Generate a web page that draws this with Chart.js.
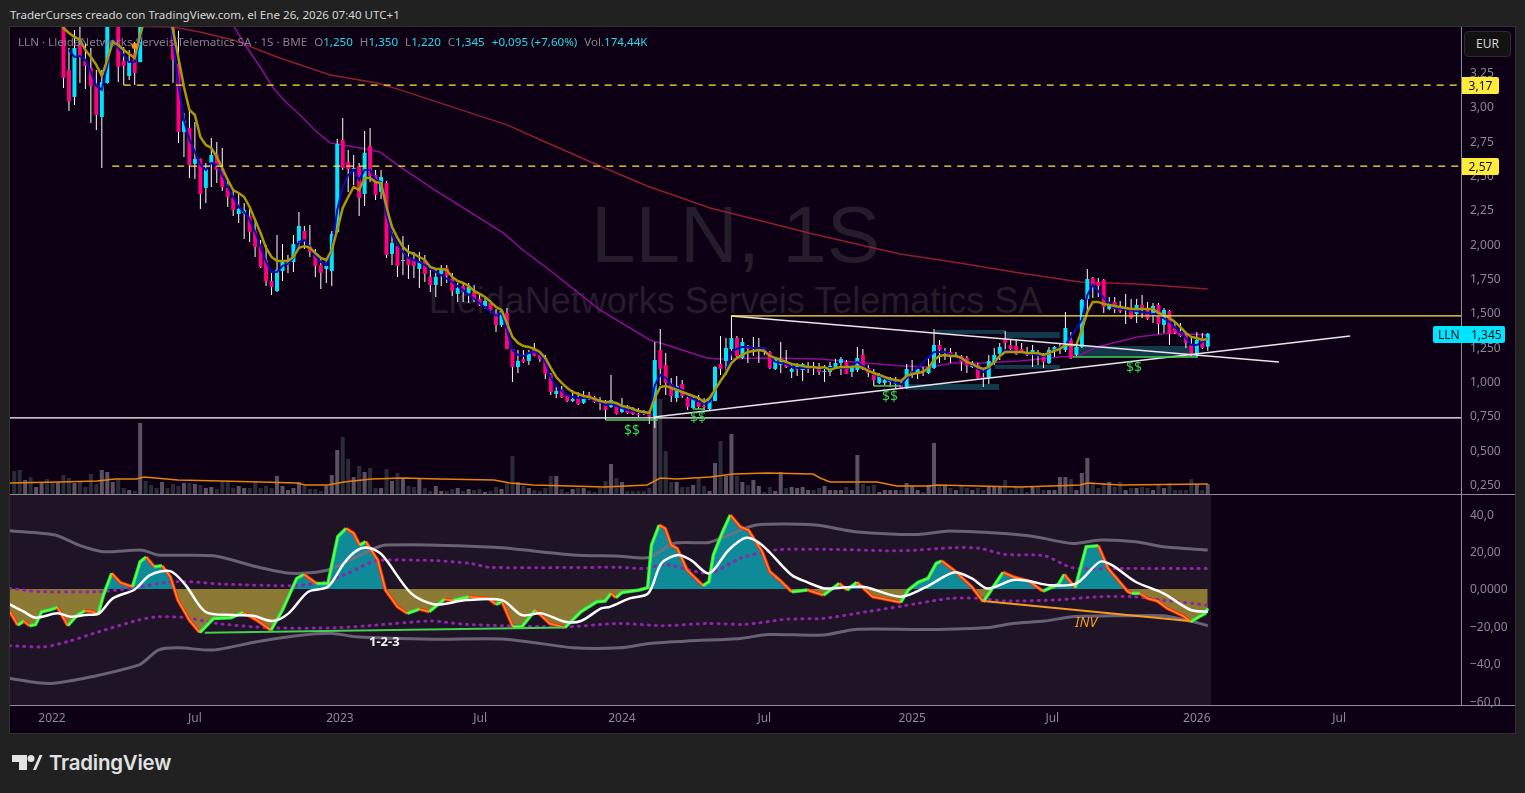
<!DOCTYPE html>
<html>
<head>
<meta charset="utf-8">
<title>LLN 1S</title>
<script src="https://cdn.jsdelivr.net/npm/chart.js@4/dist/chart.umd.min.js"></script>
<style>
  html, body { margin: 0; padding: 0; width: 1525px; height: 793px; overflow: hidden; background: #212121; }
  body { position: relative; font-family: "Noto Sans", sans-serif; }
  .abs { position: absolute; white-space: nowrap; }
  #frame { left: 9px; top: 26px; width: 1505px; height: 706px; background: #0e0014; border: 1px solid #313033; }
  #oscBg { left: 10px; top: 495px; width: 1201px; height: 210px; background: #1f1426; }
  canvas { position: absolute; }
  #wm1 { left: 0; width: 1471px; top: 185px; text-align: center; font: 80px "Liberation Sans", sans-serif; color: #251c2c; line-height: 100px; }
  #wm2 { left: 0; width: 1471px; top: 280px; text-align: center; font: 36px "Liberation Sans", sans-serif; color: #251c2c; line-height: 42px; }
  #hdr { left: 10px; top: 6px; font-size: 11.6px; line-height: 18px; color: #d6d6d6; }
  #legend { left: 18px; top: 33px; font-size: 11.6px; line-height: 18px; color: #84808c; }
  #legend b { font-weight: 400; color: #26d9e8; }
  #legend span { margin-left: 7px; }
  .sep { background: #8f8c9a; }
  .tag { font-size: 12px; line-height: 17px; height: 17px; color: #111; }
  .y { background: #ffeb3b; left: 1462px; width: 37px; text-align: center; border-radius: 0 2px 2px 0; }
  #last { background: #00e5ff; left: 1433px; width: 72px; border-radius: 2px; top: 326px; }
  #last i { font-style: normal; position: absolute; left: 5px; }
  #last u { text-decoration: none; position: absolute; left: 38px; }
  #eur { left: 1464px; top: 31px; width: 45px; height: 24px; line-height: 24px; text-align: center; background: #121212; border: 1px solid #2c2c30; border-radius: 4px; color: #d4d4d4; font-size: 12px; }
  .mark { color: #3bcf4f; font-size: 14px; line-height: 16px; }
  #t123 { left: 369px; top: 632px; color: #f2f2f2; font-size: 13px; font-weight: 700; line-height: 18px; }
  #tinv { left: 1075px; top: 613px; color: #f39c1f; font-size: 14px; font-style: italic; line-height: 18px; }
  #brand { left: 49px; top: 749px; font: 600 20.4px/28px Inter, sans-serif; color: #e2e2e2; letter-spacing: -0.2px; }
</style>
</head>
<body>
<div class="abs" id="frame"></div>
<div class="abs" id="oscBg"></div>
<div class="abs" id="wm1">LLN, 1S</div>
<div class="abs" id="wm2">LleidaNetworks Serveis Telematics SA</div>

<canvas id="priceChart" width="1505" height="467" style="left:10px;top:27px"></canvas>
<canvas id="oscChart" width="1505" height="238" style="left:10px;top:495px"></canvas>

<div class="abs sep" style="left:10px;top:494px;width:1505px;height:1px"></div>
<div class="abs sep" style="left:10px;top:705px;width:1505px;height:1px"></div>
<div class="abs sep" style="left:1461px;top:27px;width:1px;height:678px"></div>

<div class="abs" id="hdr">TraderCurses creado con TradingView.com, el Ene 26, 2026 07:40 UTC+1</div>
<div class="abs" id="legend">LLN · LleidaNetworks Serveis Telematics SA · 1S · BME<span>O<b>1,250</b></span><span>H<b>1,350</b></span><span>L<b>1,220</b></span><span>C<b>1,345</b></span><span><b>+0,095 (+7,60%)</b></span><span>Vol.<b>174,44K</b></span></div>
<div class="abs" id="eur">EUR</div>
<div class="abs tag y" style="top:77px">3,17</div>
<div class="abs tag y" style="top:158px">2,57</div>
<div class="abs tag" id="last"><i>LLN</i><u>1,345</u></div>
<div class="abs mark" style="left:624px;top:422px">$$</div>
<div class="abs mark" style="left:690px;top:409px">$$</div>
<div class="abs mark" style="left:882px;top:388px">$$</div>
<div class="abs mark" style="left:1126px;top:359px">$$</div>
<div class="abs" id="t123">1-2-3</div>
<div class="abs" id="tinv">INV</div>

<svg class="abs" style="left:0;top:750px" width="48" height="26" fill="#e2e2e2">
  <path d="M12 5h15v15h-8v-8h-7z"/><circle cx="31" cy="8.5" r="3.5"/><path d="M33 20l6.500-15h3l-6.500 15z"/>
</svg>
<div class="abs" id="brand">TradingView</div>

<script>
// weekly candles, index 0 = first bar on the left
const opens = [
  4.10,4.00,3.90,4.05,3.92,3.98,4.20,4.00,3.85,3.90,
  3.265,3.069,3.447,3.331,3.280,3.156,2.923,3.170,3.65,3.85,
  3.331,3.221,3.389,3.323,3.85,3.70,3.80,3.70,3.85,3.70,
  3.309,2.814,2.843,2.581,2.617,2.406,2.588,2.653,2.544,2.406,
  2.333,2.216,2.224,2.202,2.093,1.983,1.881,1.728,1.656,1.801,
  1.852,1.867,2.005,2.093,1.983,1.918,1.845,1.816,1.801,2.085,
  2.755,2.595,2.544,2.566,2.362,2.712,2.500,2.377,2.442,1.925,
  1.983,1.874,1.896,1.881,1.816,1.874,1.758,1.699,1.779,1.823,
  1.743,1.634,1.692,1.641,1.648,1.597,1.546,1.568,1.495,1.408,
  1.495,1.233,1.102,1.160,1.146,1.226,1.190,1.168,1.044,0.905,
  0.935,0.898,0.854,0.884,0.840,0.898,0.884,0.847,0.840,0.811,
  0.840,0.774,0.803,0.789,0.760,0.767,0.767,0.738,1.226,1.117,
  0.978,0.876,0.978,0.876,0.803,0.847,0.818,0.796,0.854,1.124,
  1.146,1.233,1.313,1.168,1.255,1.233,1.241,1.241,1.211,1.088,
  1.117,1.139,1.066,1.088,1.080,1.102,1.109,1.088,1.066,1.066,
  1.102,1.131,1.139,1.066,1.080,1.190,1.095,1.044,0.986,0.986,
  0.993,0.978,0.971,0.949,1.058,1.066,1.080,1.058,1.095,1.262,
  1.204,1.211,1.182,1.182,1.168,1.102,1.117,1.029,1.022,1.131,
  1.197,1.306,1.262,1.255,1.233,1.204,1.190,1.204,1.182,1.131,
  1.219,1.241,1.226,1.299,1.190,1.248,1.597,1.750,1.721,1.736,
  1.525,1.576,1.532,1.517,1.532,1.488,1.554,1.532,1.495,1.554,
  1.408,1.510,1.393,1.357,1.335,1.262,1.190,1.313,1.250
];
const closes = [
  4.00,3.90,4.05,3.92,3.98,4.20,4.00,3.85,3.90,3.207,
  3.039,3.425,3.360,3.294,3.149,2.937,3.178,3.65,3.85,3.287,
  3.294,3.331,3.243,3.80,3.70,3.65,3.70,3.85,3.70,3.338,
  2.814,2.894,2.573,2.617,2.362,2.551,2.646,2.537,2.413,2.340,
  2.246,2.253,2.246,2.085,1.976,1.830,1.728,1.685,1.809,1.881,
  1.860,1.998,2.129,2.020,1.940,1.838,1.787,1.838,2.071,2.726,
  2.551,2.544,2.551,2.333,2.661,2.493,2.355,2.486,1.918,2.005,
  1.838,1.881,1.845,1.838,1.874,1.779,1.699,1.758,1.823,1.765,
  1.656,1.677,1.648,1.685,1.590,1.554,1.583,1.517,1.408,1.510,
  1.233,1.102,1.146,1.139,1.204,1.182,1.160,1.051,0.920,0.927,
  0.884,0.854,0.869,0.833,0.884,0.876,0.847,0.840,0.789,0.862,
  0.760,0.803,0.767,0.760,0.753,0.760,0.738,1.153,1.088,0.986,
  0.891,0.964,0.891,0.811,0.869,0.811,0.811,0.862,1.102,1.088,
  1.241,1.313,1.182,1.284,1.233,1.248,1.248,1.219,1.095,1.160,
  1.153,1.102,1.088,1.109,1.124,1.109,1.102,1.066,1.073,1.109,
  1.131,1.160,1.051,1.095,1.168,1.088,1.058,1.007,1.037,1.007,
  1.000,0.986,0.949,1.088,1.066,1.088,1.073,1.102,1.262,1.226,
  1.211,1.190,1.190,1.139,1.109,1.124,1.022,1.022,1.146,1.190,
  1.248,1.277,1.233,1.197,1.211,1.190,1.226,1.190,1.139,1.226,
  1.248,1.248,1.386,1.168,1.248,1.590,1.743,1.685,1.692,1.539,
  1.546,1.525,1.510,1.532,1.459,1.554,1.525,1.452,1.546,1.415,
  1.517,1.343,1.350,1.328,1.277,1.190,1.299,1.241,1.345
];
const highs = [
  4.25,4.10,4.15,4.10,4.10,4.30,4.25,4.05,4.00,3.95,
  3.425,3.556,3.60,3.462,3.425,3.265,3.265,3.75,3.95,3.90,
  3.433,3.411,3.469,3.90,3.95,3.80,3.90,3.95,3.90,3.80,
  3.55,2.952,2.988,2.886,2.62,2.588,2.770,2.741,2.697,2.464,
  2.391,2.362,2.297,2.260,2.173,2.027,1.991,1.794,2.063,1.998,
  1.918,2.063,2.231,2.129,2.136,1.962,1.903,1.896,2.093,2.763,
  2.916,2.683,2.646,2.588,2.821,2.843,2.537,2.537,2.457,2.085,
  2.005,2.056,1.991,1.940,1.940,1.918,1.809,1.809,1.845,1.845,
  1.787,1.714,1.721,1.714,1.699,1.634,1.605,1.590,1.525,1.525,
  1.532,1.241,1.226,1.226,1.226,1.277,1.211,1.190,1.058,0.956,
  0.964,0.905,0.935,0.920,0.927,0.920,0.891,0.884,0.862,1.044,
  0.847,0.876,0.825,0.811,0.803,0.789,0.789,1.284,1.379,1.204,
  1.022,1.037,1.007,0.898,0.884,0.898,0.876,0.884,1.109,1.328,
  1.313,1.474,1.328,1.313,1.262,1.321,1.313,1.248,1.219,1.175,
  1.284,1.226,1.131,1.131,1.131,1.139,1.139,1.131,1.117,1.139,
  1.160,1.175,1.153,1.117,1.248,1.233,1.117,1.088,1.058,1.037,
  1.029,1.029,1.007,1.124,1.153,1.102,1.102,1.175,1.379,1.299,
  1.241,1.241,1.211,1.190,1.182,1.146,1.131,1.080,1.190,1.241,
  1.277,1.364,1.306,1.306,1.277,1.248,1.262,1.226,1.204,1.248,
  1.255,1.277,1.503,1.357,1.270,1.597,1.816,1.758,1.750,1.743,
  1.612,1.612,1.583,1.634,1.597,1.597,1.626,1.576,1.568,1.568,
  1.532,1.517,1.437,1.423,1.343,1.321,1.357,1.350,1.350
];
const lows = [
  3.95,3.85,3.85,3.85,3.88,3.95,3.95,3.80,3.75,3.134,
  2.967,3.010,3.170,3.127,2.879,2.828,2.551,3.165,3.60,3.178,
  3.156,3.192,3.156,3.32,3.65,3.60,3.62,3.65,3.65,3.170,
  2.734,2.632,2.479,2.471,2.253,2.297,2.413,2.442,2.384,2.267,
  2.202,2.151,2.034,2.012,1.903,1.823,1.692,1.626,1.648,1.728,
  1.787,1.794,1.969,1.962,1.903,1.758,1.670,1.714,1.692,2.078,
  2.537,2.377,2.428,2.202,2.275,2.449,2.318,2.326,1.896,1.845,
  1.758,1.772,1.743,1.750,1.677,1.721,1.648,1.612,1.692,1.714,
  1.619,1.576,1.576,1.568,1.576,1.546,1.525,1.495,1.357,1.393,
  1.233,0.993,1.058,1.131,1.117,1.180,1.139,1.015,0.898,0.876,
  0.876,0.847,0.847,0.825,0.833,0.862,0.840,0.789,0.781,0.803,
  0.756,0.767,0.760,0.753,0.738,0.753,0.687,0.658,0.971,0.898,
  0.847,0.847,0.876,0.789,0.796,0.796,0.789,0.789,0.854,1.044,
  1.044,1.153,1.175,1.160,1.131,1.182,1.131,1.190,1.088,1.080,
  1.058,1.095,1.022,1.037,1.000,1.058,1.044,1.044,0.993,1.037,
  1.095,1.044,1.051,1.029,1.066,1.080,1.029,0.964,0.978,0.971,
  0.956,0.949,0.942,0.942,1.022,1.015,1.037,1.051,1.088,1.131,
  1.153,1.131,1.175,1.073,1.058,1.095,1.018,0.956,0.978,1.117,
  1.153,1.204,1.226,1.190,1.204,1.182,1.102,1.117,1.095,1.124,
  1.175,1.197,1.211,1.160,1.182,1.241,1.495,1.605,1.612,1.495,
  1.517,1.495,1.495,1.415,1.452,1.423,1.459,1.444,1.423,1.343,
  1.350,1.262,1.343,1.321,1.241,1.182,1.175,1.233,1.220
];
// volume in thousands
const volumes = [
  401,419,244,296,122,192,262,192,209,331,
  279,192,209,122,349,174,419,384,209,279,
  105,70,52,1238,227,157,105,209,105,174,
  140,192,192,174,157,105,122,87,227,227,
  105,140,105,105,209,105,140,105,314,140,
  70,105,209,157,87,87,52,140,331,767,
  994,610,296,488,384,453,105,105,436,227,
  366,279,140,122,262,105,52,140,52,52,
  87,105,52,87,70,87,35,52,122,87,
  209,663,209,140,105,70,52,105,314,314,
  87,35,87,105,105,52,35,105,227,523,
  279,209,52,52,52,52,105,1395,1657,750,
  209,209,122,122,157,296,140,52,541,924,
  314,1046,314,209,157,244,140,35,122,52,
  384,105,122,105,122,70,70,105,140,70,
  70,70,122,70,680,174,140,157,35,70,
  70,70,70,192,140,70,35,157,889,140,
  140,105,70,140,105,70,105,70,122,140,
  140,244,70,140,122,35,122,122,70,70,
  70,296,296,262,70,366,628,209,105,192,
  209,122,209,70,105,105,122,105,70,157,
  105,192,70,70,70,262,174,70,174.44
];
// gold average, one value per bar
const emaSlow = [
  3.95,3.92,3.90,3.90,3.92,3.92,3.95,3.90,3.70,3.571,
  3.535,3.506,3.484,3.411,3.360,3.302,3.221,3.338,3.469,3.447,
  3.411,3.382,3.353,3.520,3.666,3.74,3.74,3.74,3.70,3.556,
  3.353,3.141,2.974,2.937,2.777,2.719,2.697,2.632,2.551,2.464,
  2.391,2.369,2.340,2.267,2.173,2.078,1.969,1.903,1.874,1.874,
  1.874,1.903,1.969,1.983,1.969,1.932,1.896,1.881,1.954,2.100,
  2.260,2.340,2.413,2.391,2.479,2.479,2.449,2.442,2.267,2.122,
  2.042,1.976,1.940,1.925,1.903,1.881,1.830,1.816,1.816,1.809,
  1.758,1.728,1.714,1.692,1.656,1.634,1.612,1.576,1.539,1.517,
  1.423,1.321,1.277,1.255,1.248,1.233,1.211,1.168,1.095,1.029,
  0.986,0.949,0.920,0.905,0.891,0.884,0.869,0.854,0.847,0.847,
  0.840,0.818,0.811,0.796,0.782,0.774,0.767,0.876,0.956,0.964,
  0.949,0.935,0.920,0.905,0.891,0.876,0.847,0.876,0.935,1.000,
  1.058,1.131,1.168,1.190,1.211,1.219,1.226,1.219,1.182,1.168,
  1.153,1.139,1.124,1.117,1.109,1.102,1.102,1.095,1.102,1.080,
  1.095,1.102,1.102,1.102,1.109,1.095,1.073,1.058,1.044,1.029,
  1.015,1.007,1.000,1.037,1.051,1.058,1.066,1.095,1.153,1.182,
  1.190,1.182,1.182,1.168,1.139,1.124,1.102,1.088,1.102,1.139,
  1.182,1.211,1.211,1.211,1.211,1.204,1.204,1.204,1.190,1.204,
  1.219,1.233,1.262,1.262,1.262,1.372,1.503,1.576,1.576,1.561,
  1.554,1.546,1.539,1.532,1.525,1.525,1.525,1.525,1.525,1.495,
  1.481,1.459,1.430,1.393,1.350,1.321,1.313,1.299,1.306
];
// blue average, read where it shows beside the gold one
const emaFastBars = [10,11,12,13,14,15,16,17,18,19,20,21,22,23,24,28,29,30,31,32,33,34,35,36,37,38,39,40,41,42,43,44,45,46,47,48,49,50,51,52,53,54,55,56,57,58,59,60,61,62,63,64,65,66,67,68,69,70,71,72,73,74,80,88,89,90,91,92,93,94,95,96,97,98,99,100,101,102,103,104,105,106,107,108,109,110,111,112,113,114,115,116,117,118,119,120,121,122,123,124,125,126,127,128,129,130,131,132,133,134,135,136,137,138,139,140,141,142,143,144,145,146,147,148,152,154,157,162,163,168,170,174,177,178,181,188,192,195,196,197,199,201,205,209,211,214,215,216,217,218];
const emaFast = [3.411,3.360,3.367,3.338,3.251,3.149,3.120,3.302,3.484,3.425,3.374,3.323,3.323,3.484,3.702,3.74,3.484,3.156,2.901,2.755,2.668,2.573,2.537,2.588,2.573,2.500,2.413,2.340,2.267,2.231,2.173,2.085,1.976,1.867,1.794,1.794,1.838,1.852,1.896,2.012,2.027,1.976,1.911,1.867,1.845,1.954,2.246,2.413,2.500,2.537,2.464,2.537,2.537,2.464,2.449,2.209,2.063,1.991,1.940,1.896,1.881,1.867,1.721,1.474,1.495,1.372,1.226,1.190,1.182,1.204,1.211,1.197,1.139,1.022,0.964,0.927,0.898,0.884,0.876,0.876,0.876,0.862,0.847,0.825,0.833,0.818,0.803,0.789,0.782,0.774,0.767,0.760,0.971,1.044,1.022,0.971,0.949,0.935,0.891,0.869,0.854,0.833,0.847,0.935,0.993,1.066,1.211,1.233,1.248,1.248,1.241,1.241,1.241,1.182,1.139,1.131,1.124,1.102,1.095,1.095,1.095,1.102,1.088,1.095,1.095,1.139,1.051,0.971,1.022,1.211,1.211,1.139,1.066,1.095,1.226,1.182,1.262,1.444,1.626,1.699,1.605,1.532,1.510,1.481,1.430,1.313,1.262,1.262,1.284,1.313];
const ma100Bars = [39.4,42.2,44.9,47.3,49.8,52.2,54.9,57.7,60,63.2,66.8,70.5,76.5,89.3,92.9,97.5,107,116.1,119.2,126.5,128.4,137.5,147.2,153.2,162.3,167.3,171.5,176.4,183.7,190.9,194.3,197.8,205.1,211.1,218];
const ma100 = [3.629,3.447,3.287,3.134,3.025,2.937,2.828,2.734,2.719,2.697,2.668,2.559,2.399,2.078,1.954,1.816,1.517,1.299,1.262,1.168,1.160,1.168,1.160,1.139,1.109,1.102,1.131,1.131,1.146,1.175,1.182,1.248,1.321,1.350,1.335];
const ma200Bars = [10,18,29,33.9,40,48,57.7,66.3,70.5,90,96.6,107,115.6,127.1,145.9,161.8,171.5,183.7,194.7,205.1,218];
const ma200 = [3.60,3.585,3.578,3.542,3.484,3.360,3.229,3.170,3.120,2.865,2.748,2.566,2.420,2.260,2.071,1.925,1.867,1.787,1.721,1.707,1.670];
const volMaBars = [-0.8,8.2,15.1,18.4,22.3,23.7,29.9,37.8,45,51.5,53.3,57.3,60.2,65.3,71,77.6,87.6,90.6,94.8,101.5,107.9,115.6,118,121,127.1,131.3,137.5,145.9,147.2,149,157.6,161.2,167.3,168.5,183.7,194.7,196,202,218];
const volMa = [192,209,227,262,262,296,244,227,209,192,157,157,209,262,279,262,244,192,157,140,122,157,279,262,296,349,366,349,279,209,209,140,140,157,122,157,192,157,174];

// oscillator pane
const oscBars = [-0.8,0.66,1.74,2.8,3.9,5,6.4,7.9,9.8,11.5,12.9,14.4,15.3,16.3,17.8,19.4,21.6,23,24.1,25.6,27,28.5,29.9,32.1,33.9,36.4,39.6,41.8,44.3,46.9,49,51.6,52.9,55.2,57.3,59.1,60.6,62,63.1,64.2,66.4,67.8,70,71.8,74,75.8,78.6,80.1,83,86.6,88,89.1,91.1,92.7,95.2,97.8,100.6,103.5,106.4,107.9,109,109.9,111,114.2,115.7,116.4,117.8,118.9,120,121.1,122.9,125.8,126.9,127.7,129.4,130.8,132.6,134.1,136.6,138,139.8,142,144.9,147.8,150.7,152.1,153.9,156.8,161.9,163.3,165.1,166.9,168.4,169.4,171.6,174.9,177,180.6,182.4,185.3,187.9,190.7,191.8,193.8,195.8,198,199.8,203.4,204.1,205.6,207,208.8,210.6,213.5,214.9,216.4,217.5,218];
const oscVals = [-12.1,-19.3,-17.1,-19.6,-18.9,-12.1,-11.2,-9.8,-19.6,-13.9,-11.6,-12.1,-13.6,-3.2,8.4,3.4,1.2,14.6,17.1,11.9,12.5,6.6,-5.9,-17.1,-23.2,-15.7,-15.3,-12.5,-16.6,-22,-11.2,5.7,7.8,3,3,28,32.4,29.8,23.5,25.3,15.5,-0.5,-9.5,-13,-10.7,-12.1,-5.4,-6.1,-4.1,-5,-8.2,-6.8,-20.2,-20.2,-11.2,-18.4,-20.5,-12.1,-6.8,-6.4,-2.3,-4.6,-1.8,-0.5,0.7,23.5,34.2,32.4,23.5,21.7,10.2,1.8,3.9,18.2,30.7,39.6,33.3,31.5,20,9.3,4.8,-1.4,-0.5,-3.2,3,-0.5,3.6,-4.1,-7.1,-0.5,3.6,5.7,13.7,15,10.2,1.2,-6.8,8.9,6.6,4.3,-1.1,2.5,7.8,0.7,22.6,23.2,11,-1.4,-2.3,-2.3,-5,-6.4,-10.3,-14.3,-17.5,-14.8,-13,-10.3];
const signalBars = [-0.8,1.74,3.9,7.9,10.4,12.9,15.5,18,22,24.8,28.5,31.3,34.9,40,43.6,47.2,50.1,53.7,57.3,60.2,62.4,64.6,67.1,72.5,76.8,82.6,89.1,92.7,96.3,100.6,103.5,107.2,108.8,112.4,115.8,118.2,121.2,123.6,126.9,130.5,133.7,136.6,142,144.9,148.1,155,161.9,166.6,171.6,174.9,177.8,182.4,185.3,189,194,198.3,200.5,204.8,209.9,214.9,218];
const signalVals = [-8.2,-12.1,-15.3,-13,-14.8,-13.9,-13,-5,-0.2,7.5,9.6,2.1,-12.1,-13.9,-14.3,-17.1,-13,-1.4,1.2,13.7,20.3,22.1,18.5,-2.3,-8.2,-5.9,-5.9,-13.9,-13,-17.5,-17.1,-10.3,-9.5,-5,-2.3,13.7,18.2,15.5,8.4,20.9,27.4,23.5,7.5,3.6,0.3,1.2,-4.1,1.2,8.9,5.7,0.3,4.8,4.3,2.1,3,14.6,12.8,3.9,-2.3,-11.2,-12.1];
const bandUpperBars = [-0.8,7.5,11.8,16.2,23.4,26.3,36.4,44.3,50.8,57.3,63.8,67.8,87.7,102.1,110.6,116,120.4,126.9,130.5,135.5,146.3,153.6,165.1,170.9,185.3,193.3,198.3,204.8,209.9,218];
const bandUpper = [31.2,28.9,23.5,20,20.8,18.2,17.8,11.9,8.4,10.2,19.1,23.5,22.3,18.2,17.6,16.9,24.4,24.9,28.9,34.2,34.2,30.7,29.2,31,28.5,24.4,26.2,25.3,22.6,20.9];
const bandLowerBars = [-0.8,6.8,22.7,26.3,29.9,36.4,44.3,51.6,58.1,62.4,76.8,89.8,102.1,110.6,116,123.2,132.6,137.7,147.8,153.6,166.6,178.1,182.4,188.2,193.3,202.7,209.9,214.9,218];
const bandLower = [-47.8,-50.5,-40.7,-32.6,-31.4,-32.6,-28.2,-25,-23.7,-25.5,-26.8,-26.8,-31.4,-31.4,-29.1,-27.7,-26.4,-24.3,-24.6,-21.6,-21.6,-20.5,-18.4,-17.1,-14.8,-14.3,-14.3,-17.1,-19.6];
const dotUpperBars = [-0.8,4.6,15.5,22,27.7,32.1,37.8,50.8,56.6,60.9,66,76.8,83.3,87,110.6,115.3,118.9,126.9,132.6,139.1,149.2,162.2,171.6,176.3,181,188.2,193.3,202.7,218];
const dotUpper = [0.4,-1.4,-1.4,0.7,3.6,3.9,2.7,1.8,3.6,8.4,15,15.2,13.7,11.6,11.6,11,13.2,8.4,16.4,20.9,21.2,20.5,22.1,21.8,18.5,17.8,11.4,11,11];
const dotLowerBars = [-0.8,5.4,9.7,15.5,22.7,26.3,31.3,37.1,46.5,58.8,66,76.1,82.6,100.6,110.6,118.2,126.9,133.3,141.3,147.8,155.7,162.2,170.9,176.3,181,189.7,198.3,204.1,209.9,218];
const dotLower = [-30.3,-30.9,-28.2,-22.8,-16.6,-14.8,-15.3,-18.4,-20.7,-20.7,-19.3,-17.1,-18.9,-20.2,-18.4,-19.6,-18.4,-18.9,-16.1,-15.7,-12.1,-9.1,-5,-5,-6.4,-5.9,-4.1,-4.1,-5.9,-8.6];

// axis labels
const priceTicks = [3.25,3,2.75,2.5,2.25,2,1.75,1.5,1.25,1,0.75,0.5,0.25];
const priceTickLabels = ['3,25','3,00','2,75','2,50','2,25','2,000','1,750','1,500','1,250','1,000','0,750','0,500','0,250'];
const oscTicks = [40,20,0,-20,-40,-60];
const oscTickLabels = ['40,0','20,00','0,0000','−20,00','−40,0','−60,0'];
const timeTicks = [6.9,33,59.5,85.1,111,137,164,189.6,216,242];
const timeTickLabels = ['2022','Jul','2023','Jul','2024','Jul','2025','Jul','2026','Jul'];

// drawings, in bars and prices
const lastBar = 264.25;
const support = 0.731;
const level317 = 3.155;
const level257 = 2.565;
const neckline = 1.474;
const neckFrom = 130.9;
const wedgeUpperBars = [131,231];
const wedgeUpper = [1.474,1.139];
const wedgeLowerBars = [116.9,244];
const wedgeLower = [0.738,1.328];
const zoneFrom = [168.2,181,179.1,163,194.1];
const zoneTo = [181,191,191,179.9,215.1];
const zoneHigh = [1.372,1.357,1.117,0.978,1.255];
const zoneLow = [1.343,1.313,1.088,0.935,1.175];
const sweepFrom = [108,124,157,193.4];
const sweepTo = [117.6,126,162,216.2];
const sweepLevel = [0.716,0.796,0.964,1.175];
const alertBar = 22;
const alertPrice = 3.44;
const osc123Bars = [34.8,100.6];
const osc123 = [-23.4,-20.5];
const oscInvBars = [177,214.6];
const oscInv = [-6.4,-17.1];

const toPoints = (xs, ys) => xs.map((x, i) => ({ x, y: ys[i] }));
const barIndex = opens.map((_, i) => i);

const UP = '#00e5ff';
const DOWN = '#ff0080';
const AXIS = '#8b8794';
const AXIS_FONT = { family: '"Noto Sans", sans-serif', size: 12 };

const line = (data, yAxisID, color, width, order, extra) => Object.assign({
    type: 'line', data, yAxisID, borderColor: color, borderWidth: width, order,
    pointRadius: 0, tension: 0, fill: false
}, extra || {});

// the labels would otherwise push the plot area in from top and bottom
const fitY = s => { s.width = 54; s.paddingTop = 0; s.paddingBottom = 0; };

// teal blocks go under the candles
const zonesPlugin = {
    id: 'zones',
    beforeDatasetsDraw(chart) {
        const { ctx, scales: { x, y } } = chart;
        ctx.save();
        ctx.fillStyle = '#12384a';
        zoneFrom.forEach((from, i) => {
            const left = x.getPixelForValue(from);
            const top = y.getPixelForValue(zoneHigh[i]);
            ctx.fillRect(left, top, x.getPixelForValue(zoneTo[i]) - left, y.getPixelForValue(zoneLow[i]) - top);
        });
        ctx.restore();
    }
};

const initPriceChart = () => {
    const sweeps = sweepFrom.map((from, i) => line(
        toPoints([from, sweepTo[i]], [sweepLevel[i], sweepLevel[i]]), 'y', '#43d14f', 1.5, 1));
    new Chart(document.getElementById('priceChart').getContext('2d'), {
        type: 'bar',
        plugins: [zonesPlugin],
        data: {
            datasets: [
                // volume sits behind everything
                {
                    data: toPoints(barIndex, volumes), yAxisID: 'vol', order: 20, grouped: false, barThickness: 4, inflateAmount: 0,
                    backgroundColor: barIndex.map(i => closes[i] >= opens[i] ? '#5a5260' : '#2a2d36')
                },
                line(toPoints(volMaBars, volMa), 'vol', '#e8820c', 1.5, 19),
                line(toPoints(ma200Bars, ma200), 'y', '#8e1f32', 1.5, 12),
                line(toPoints(ma100Bars, ma100), 'y', '#8c0d96', 1.5, 11),
                {
                    data: barIndex.map(i => ({ x: i, y: [lows[i], highs[i]] })), yAxisID: 'y', order: 10,
                    grouped: false, barThickness: 1, inflateAmount: 0, minBarLength: 1, backgroundColor: '#ffffff'
                },
                {
                    data: barIndex.map(i => ({ x: i, y: [opens[i], closes[i]] })), yAxisID: 'y', order: 9,
                    grouped: false, barThickness: 4, inflateAmount: 0, minBarLength: 1,
                    backgroundColor: barIndex.map(i => closes[i] >= opens[i] ? UP : DOWN)
                },
                line(toPoints(emaFastBars, emaFast), 'y', '#0a0ab8', 2, 8),
                line(toPoints(barIndex, emaSlow), 'y', '#a89a00', 2.5, 7),
                line(toPoints(wedgeUpperBars, wedgeUpper), 'y', '#e8e6ea', 1.5, 3),
                line(toPoints(wedgeLowerBars, wedgeLower), 'y', '#e8e6ea', 1.5, 3),
                line(toPoints([-0.77, lastBar], [support, support]), 'y', '#ffffff', 1.3, 2),
                line(toPoints([neckFrom, lastBar], [neckline, neckline]), 'y', '#ffe93b', 1.3, 2),
                line(toPoints([20, lastBar], [level317, level317]), 'y', '#ffe93b', 1.3, 2, { borderDash: [7, 6] }),
                line(toPoints([17.9, lastBar], [level257, level257]), 'y', '#ffe93b', 1.3, 2, { borderDash: [7, 6] }),
                line(toPoints([108, 108], [0.789, 0.716]), 'y', '#f2f2f2', 1, 2),
                ...sweeps,
                line(toPoints([alertBar], [alertPrice]), 'y', '#f7931a', 0, 1, { pointRadius: 3, pointBackgroundColor: '#f7931a', pointBorderColor: '#f7931a' })
            ]
        },
        options: {
            responsive: false,
            animation: false,
            devicePixelRatio: 1,
            layout: { padding: 0, autoPadding: false },
            plugins: { legend: { display: false }, tooltip: { enabled: false } },
            scales: {
                x: { type: 'linear', min: -0.77, max: lastBar, offset: false, display: false },
                vol: { type: 'linear', display: false, min: 0, max: 8145 },
                y: {
                    type: 'linear', position: 'right', min: 0.177, max: 3.578,
                    grid: { display: false, drawTicks: false }, border: { display: false },
                    afterFit: fitY,
                    afterBuildTicks: s => { s.ticks = priceTicks.map(value => ({ value })); },
                    ticks: {
                        color: AXIS, font: AXIS_FONT, padding: 9, crossAlign: 'near', autoSkip: false, labelOffset: 1.5,
                        callback: v => priceTickLabels[priceTicks.indexOf(v)]
                    }
                }
            }
        }
    });
};

const initOscChart = () => {
    const rising = c => c.p1.parsed.y >= c.p0.parsed.y;
    const oscPoints = toPoints(oscBars, oscVals);
    new Chart(document.getElementById('oscChart').getContext('2d'), {
        type: 'line',
        data: {
            datasets: [
                line(oscPoints, 'y', '#19e04b', 0, 9, { fill: { target: { value: 0 }, above: '#0f8a99', below: '#8c7a34' } }),
                line(toPoints(bandUpperBars, bandUpper), 'y', 'rgba(120,110,130,0.85)', 3, 8, { tension: 0.25 }),
                line(toPoints(bandLowerBars, bandLower), 'y', 'rgba(120,110,130,0.85)', 3, 8, { tension: 0.25 }),
                line(toPoints(dotUpperBars, dotUpper), 'y', '#8e24aa', 3, 7, { tension: 0.25, borderDash: [1, 6], borderCapStyle: 'round' }),
                line(toPoints(dotLowerBars, dotLower), 'y', '#8e24aa', 3, 7, { tension: 0.25, borderDash: [1, 6], borderCapStyle: 'round' }),
                line(oscPoints, 'y', '#ff2a12', 3.5, 5, {
                    segment: { borderColor: c => rising(c) ? '#10e86a' : '#ff2a12' }
                }),
                line(oscPoints, 'y', '#ff9020', 1.5, 4, {
                    segment: { borderColor: c => rising(c) ? '#7dff20' : '#ff9020' }
                }),
                line(toPoints(signalBars, signalVals), 'y', '#ffffff', 2.5, 3, { tension: 0.3 }),
                line(toPoints(osc123Bars, osc123), 'y', '#43d14f', 2, 2),
                line(toPoints(oscInvBars, oscInv), 'y', '#f59a23', 2, 2)
            ]
        },
        options: {
            responsive: false,
            animation: false,
            devicePixelRatio: 1,
            layout: { padding: 0, autoPadding: false },
            plugins: { legend: { display: false }, tooltip: { enabled: false } },
            scales: {
                x: {
                    type: 'linear', min: -0.77, max: lastBar,
                    grid: { display: false, drawTicks: false }, border: { display: false },
                    afterFit: s => { s.height = 28; s.paddingLeft = 0; s.paddingRight = 0; },
                    afterBuildTicks: s => { s.ticks = timeTicks.map(value => ({ value })); },
                    ticks: {
                        color: AXIS, font: AXIS_FONT, padding: 6, autoSkip: false, maxRotation: 0, minRotation: 0,
                        callback: v => timeTickLabels[timeTicks.indexOf(v)]
                    }
                },
                y: {
                    type: 'linear', position: 'right', min: -62, max: 50.3,
                    grid: { display: false, drawTicks: false }, border: { display: false },
                    afterFit: fitY,
                    afterBuildTicks: s => { s.ticks = oscTicks.map(value => ({ value })); },
                    ticks: {
                        color: AXIS, font: AXIS_FONT, padding: 9, crossAlign: 'near', autoSkip: false, labelOffset: 1,
                        callback: v => oscTickLabels[oscTicks.indexOf(v)]
                    }
                }
            }
        }
    });
};

initPriceChart();
initOscChart();
</script>
</body>
</html>
